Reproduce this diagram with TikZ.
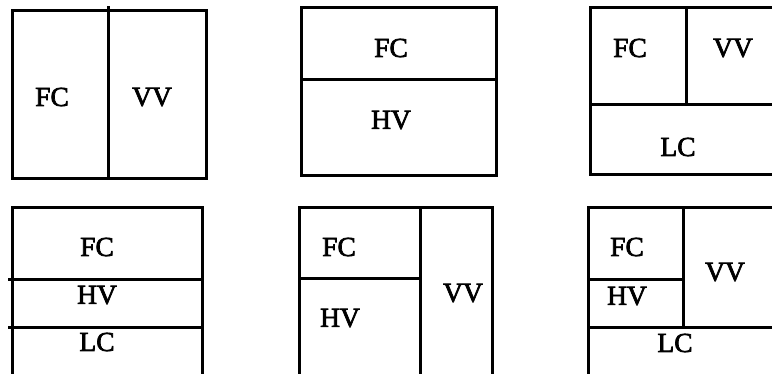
\documentclass[tikz,border=0pt]{standalone}
\usepackage{fontspec}
\setmainfont{Liberation Serif}
\newfontfamily\lblfont{Liberation Serif}[FakeBold=2.5]
\begin{document}
\begin{tikzpicture}[x=1pt,y=-1pt,
  wall/.style={line width=3pt,line cap=rect},
  lbl/.style={font=\lblfont\fontsize{27.5}{30}\selectfont,inner sep=0pt,anchor=center}]
\useasboundingbox (0,0) rectangle (772,373);
% panel 1
\draw[wall] (12,10) rectangle (206,178);
\draw[wall] (108,7) -- (108,178);
\node[lbl] (p1fc) at (52,97) {FC};
\node[lbl] (p1vv) at (152,97) {VV};
% panel 2
\draw[wall] (301,7) rectangle (496,175);
\draw[wall] (301,79) -- (496,79);
\node[lbl] (p2fc) at (391,48) {FC};
\node[lbl] (p2hv) at (391,120) {HV};
% panel 3
\draw[wall] (775,7) -- (590,7) -- (590,174) -- (775,174);
\draw[wall] (590,104) -- (775,104);
\draw[wall] (686,7) -- (686,104);
\node[lbl] (p3fc) at (630,48) {FC};
\node[lbl] (p3vv) at (733,48) {VV};
\node[lbl] (p3lc) at (678,147) {LC};
% panel 4
\draw[wall] (12,376) -- (12,207) -- (202,207) -- (202,376);
\draw[wall] (9,279) -- (202,279);
\draw[wall] (9,327) -- (202,327);
\node[lbl] (p4fc) at (97,247) {FC};
\node[lbl] (p4hv) at (97,295) {HV};
\node[lbl] (p4lc) at (97,342) {LC};
% panel 5
\draw[wall] (299,376) -- (299,207) -- (492,207) -- (492,376);
\draw[wall] (420,207) -- (420,376);
\draw[wall] (299,278) -- (420,278);
\node[lbl] (p5fc) at (339,247) {FC};
\node[lbl] (p5hv) at (340,318) {HV};
\node[lbl] (p5vv) at (463,293) {VV};
% panel 6
\draw[wall] (588,376) -- (588,207) -- (775,207);
\draw[wall] (683,207) -- (683,327);
\draw[wall] (588,279) -- (683,279);
\draw[wall] (588,327) -- (775,327);
\node[lbl] (p6fc) at (627,247) {FC};
\node[lbl] (p6hv) at (627,296) {HV};
\node[lbl] (p6vv) at (725,272) {VV};
\node[lbl] (p6lc) at (675,343) {LC};
\end{tikzpicture}
\end{document}
